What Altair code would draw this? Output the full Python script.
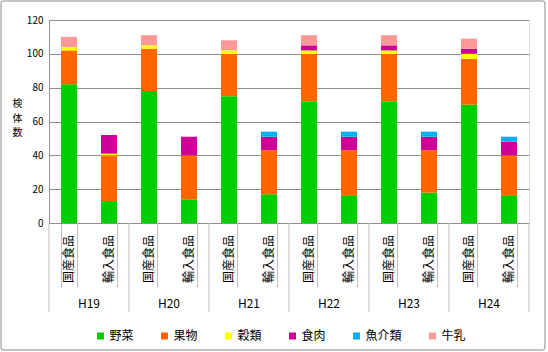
import altair as alt
import pandas as pd

years = ["H19", "H20", "H21", "H22", "H23", "H24"]
origins = ["国産食品", "輸入食品"]
categories = ["野菜", "果物", "穀類", "食肉", "魚介類", "牛乳"]
colors = ["#00CC00", "#FF6600", "#FFFF00", "#CC0099", "#00B0F0", "#FF9999"]

# values per bar, ordered H19 国産, H19 輸入, H20 国産, ...
yasai = [82, 13, 78, 14, 75, 17, 72, 16, 72, 18, 70, 16]
kudamono = [20, 27, 25, 26, 25, 26, 28, 27, 28, 25, 27, 24]
kokurui = [2, 1, 2, 0, 2, 0, 2, 0, 2, 0, 3, 0]
shokuniku = [0, 11, 0, 11, 0, 8, 3, 8, 3, 8, 3, 8]
gyokai = [0, 0, 0, 0, 0, 3, 0, 3, 0, 3, 0, 3]
gyunyu = [6, 0, 6, 0, 6, 0, 6, 0, 6, 0, 6, 0]
series = [yasai, kudamono, kokurui, shokuniku, gyokai, gyunyu]

y_ticks = [0, 20, 40, 60, 80, 100, 120]
y_title = "検\n体\n数"

bars = [f"{y}|{o}" for y in years for o in origins]
bar_labels = [o for y in years for o in origins]

rows = []
for ci, (cat, vals) in enumerate(zip(categories, series)):
    for b, v in zip(bars, vals):
        if v > 0:
            rows.append({"bar": b, "cat": cat, "idx": ci, "value": v})
df = pd.DataFrame(rows)

FONT = "Noto Sans CJK JP"
GRID = "#8E8E8E"
DIV = "#BFBFBF"

xscale = alt.Scale(domain=bars, paddingInner=0.6, paddingOuter=0.3)
x_enc = alt.X("bar:N", sort=bars, scale=xscale,
              axis=alt.Axis(title=None, labels=False, ticks=True, tickBand="extent",
                            tickSize=64, tickColor=DIV, domainColor=GRID, grid=False))
x_plain = alt.X("bar:N", sort=bars, scale=xscale)

border = alt.Chart(pd.DataFrame({"a": [0]})).mark_rect(
    fill="white", fillOpacity=0, stroke="#B3B3B3", strokeWidth=1.5, cornerRadius=3
).encode(x=alt.value(-48), x2=alt.value(496), y=alt.value(-19), y2=alt.value(330))

bar_layer = alt.Chart(df).mark_bar().encode(
    x=x_enc,
    y=alt.Y("value:Q", stack="zero",
            scale=alt.Scale(domain=[0, 120], nice=False),
            axis=alt.Axis(title=None, values=y_ticks, ticks=False, gridColor=GRID,
                          domainColor=GRID, labelFontSize=10, labelPadding=6,
                          labelColor="#000000", labelFont=FONT)),
    color=alt.Color("cat:N", scale=alt.Scale(domain=categories, range=colors),
                    legend=alt.Legend(title=None, orient="none", legendX=45.5, legendY=310,
                                      direction="horizontal", symbolType="square",
                                      symbolSize=49, symbolStrokeWidth=0,
                                      labelFontSize=12, labelFont=FONT, labelOffset=3,
                                      columnPadding=24, labelColor="#000000")),
    order=alt.Order("idx:Q", sort="ascending"),
)

lab_df = pd.DataFrame({"bar": bars, "label": bar_labels})
lab_layer = alt.Chart(lab_df).mark_text(
    angle=270, align="right", baseline="middle", fontSize=12, font=FONT, color="#000000"
).encode(x=x_plain, y=alt.value(215), text="label:N")

yr_df = pd.DataFrame({"bar": [f"{y}|{origins[0]}" for y in years], "year": years})
yr_layer = alt.Chart(yr_df).mark_text(
    baseline="middle", align="center", fontSize=12, font=FONT, color="#000000", xOffset=20
).encode(x=x_plain, y=alt.value(284), text="year:N")

div_left = alt.Chart(yr_df).mark_rule(color=DIV, xOffset=-20).encode(
    x=x_plain, y=alt.value(203), y2=alt.value(292))
div_end = alt.Chart(pd.DataFrame({"bar": [bars[-1]]})).mark_rule(color=DIV, xOffset=20).encode(
    x=x_plain, y=alt.value(203), y2=alt.value(292))

ytitle = alt.Chart(pd.DataFrame({"t": [y_title]})).mark_text(
    lineBreak="\n", fontSize=10, lineHeight=14.5, baseline="top", align="center",
    font=FONT, color="#000000"
).encode(x=alt.value(-31.5), y=alt.value(79), text="t:N")

chart = alt.layer(border, bar_layer, div_left, div_end, lab_layer, yr_layer, ytitle).properties(
    width=480, height=203,
    padding={"left": 49, "top": 20, "right": 19, "bottom": 129},
    autosize=alt.AutoSizeParams(type="none"),
    background="white",
).configure_view(stroke=None).configure(font=FONT)

chart.save("out.html", embed_options={"renderer": "svg", "actions": False})
